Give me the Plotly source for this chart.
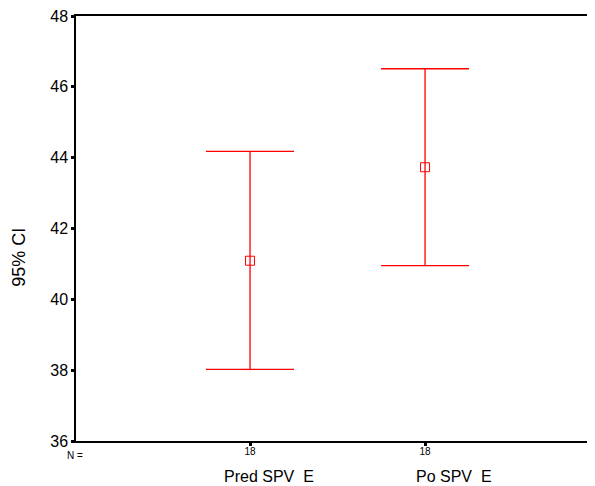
import plotly.graph_objects as go

categories = ["Pred SPV  E", "Po SPV  E"]
n_values = ["18", "18"]
means = [41.09, 43.73]
lower = [38.02, 40.95]
upper = [44.18, 46.51]
xpos = [1, 2]

# label horizontal offsets (px) relative to tick position
label_shift = [19, 29]

err_plus = [u - m for u, m in zip(upper, means)]
err_minus = [m - l for m, l in zip(means, lower)]

FONT = "Liberation Sans, Arial, sans-serif"

fig = go.Figure()
fig.add_trace(go.Scatter(
    x=xpos, y=means, mode="markers",
    marker=dict(symbol="square-open", size=9, color="#ff0000", line=dict(width=1, color="#ff0000")),
    error_y=dict(type="data", symmetric=False, array=err_plus, arrayminus=err_minus,
                 color="#ff0000", thickness=1.3, width=44),
    showlegend=False, hoverinfo="skip",
))

fig.update_layout(
    width=587, height=478,
    margin=dict(l=68, r=0, t=6, b=45),
    paper_bgcolor="white", plot_bgcolor="white",
    font=dict(family=FONT, color="black"),
    xaxis=dict(range=[0.00571, 2.971], tickvals=xpos, ticktext=n_values,
               tickfont=dict(size=10), ticks="outside", ticklen=3, tickwidth=3,
               ticklabelstandoff=-3,
               tickcolor="black", showline=True, linecolor="black", linewidth=1.5,
               mirror=True, showgrid=False, zeroline=False),
    yaxis=dict(range=[36, 48], dtick=2, tick0=36, ticks="outside", ticklen=3, tickwidth=3,
               tickcolor="black", tickfont=dict(size=16), showline=True, linecolor="black",
               linewidth=1.5, showgrid=False, zeroline=False, ticklabeloverflow="allow"),
)

fig.add_annotation(text="95% CI", x=0, y=0.431, xref="paper", yref="paper", xshift=-57,
                   xanchor="center", yanchor="middle", textangle=-90, showarrow=False,
                   font=dict(size=18))
fig.add_annotation(text="N =", x=0, y=0, xref="paper", yref="paper", xanchor="left",
                   yanchor="top", yshift=-7, xshift=-11, showarrow=False, font=dict(size=10))
for xp, cat, sh in zip(xpos, categories, label_shift):
    fig.add_annotation(text=cat, x=xp, y=0, xref="x", yref="paper", xanchor="center",
                       yanchor="top", yshift=-25, xshift=sh, showarrow=False, font=dict(size=16))

fig.write_html("out.html")
